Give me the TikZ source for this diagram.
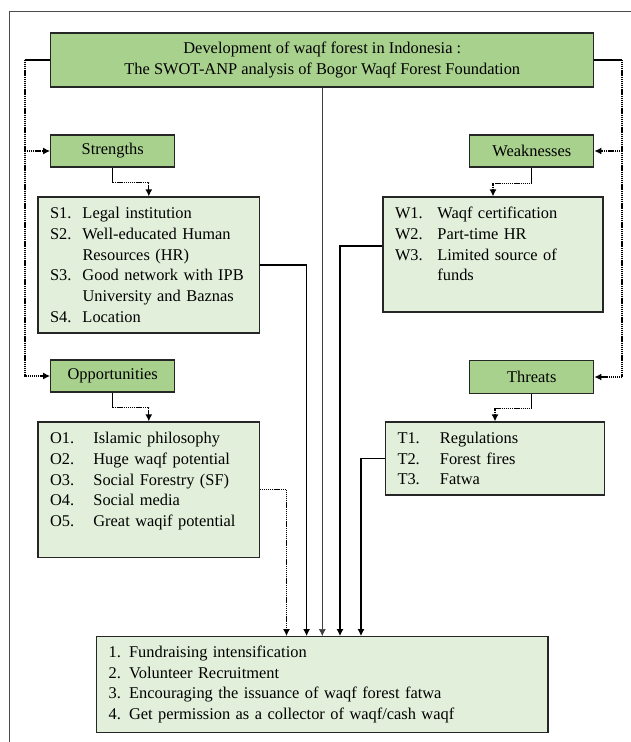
\documentclass[tikz,border=0pt]{standalone}
\usepackage{fontspec}
\setmainfont{Liberation Serif}
\usepackage{xcolor}
\usepackage{tikz}
\usetikzlibrary{arrows.meta}
\definecolor{headgreen}{HTML}{A9D18E}
\definecolor{boxgreen}{HTML}{E2EFDA}
\newcommand{\lbl}[2]{\makebox[#1][l]{#2}}

\begin{document}
\begin{tikzpicture}[x=1pt,y=-1pt,
    every node/.style={font=\fontsize{16.4}{20.7}\selectfont},
    head/.style={draw=black!85,line width=1.2pt,fill=headgreen,inner sep=0pt},
    list/.style={draw=black!85,line width=1.2pt,fill=boxgreen,inner xsep=12pt,inner ysep=0pt,align=left},
    plain/.style={line width=1.1pt},
    link/.style={plain,-{Latex[length=7pt,width=7pt]}},
    dotlink/.style={link,line width=1.3pt,dash pattern=on 1.2pt off 0.7pt}]
    \useasboundingbox (0,0) rectangle (631,742);
    \draw[black!70,line width=0.8pt] (9.7,742) -- (9.7,11) -- (631,11);
    \node[head,minimum width=543pt,minimum height=54pt,align=center] (title) at (322.3,60)
      {Development of waqf forest in Indonesia :\\The SWOT-ANP analysis of Bogor Waqf Forest Foundation};
    \node[head,minimum width=124pt,minimum height=32pt] (str) at (112.7,151) {Strengths};
    \node[head,minimum width=124pt,minimum height=32pt] (weak) at (531.8,151) {Weaknesses};
    \node[head,minimum width=124pt,minimum height=32pt] (opp) at (112.7,376) {Opportunities};
    \node[head,minimum width=124pt,minimum height=33pt] (thr) at (531.8,377) {Threats};
    \node[list,text width=197.6pt,minimum height=136pt] (sbox) at (148.8,265)
      {\lbl{32.5pt}{S1.}Legal institution\\
       \lbl{32.5pt}{S2.}\mbox{Well-educated Human}\\
       \lbl{32.5pt}{}Resources (HR)\\
       \lbl{32.5pt}{S3.}\mbox{Good network with IPB}\\
       \lbl{32.5pt}{}\mbox{University and Baznas}\\
       \lbl{32.5pt}{S4.}Location};
    \node[list,text width=196pt,minimum height=115pt] (wbox) at (493,254.5)
      {\lbl{42.4pt}{W1.}Waqf certification\\
       \lbl{42.4pt}{W2.}Part-time HR\\
       \lbl{42.4pt}{W3.}Limited source of\\
       \lbl{42.4pt}{}funds\\
       \mbox{}};
    \node[list,text width=197.6pt,minimum height=135.7pt] (obox) at (148.8,489.8)
      {\lbl{43.4pt}{O1.}Islamic philosophy\\
       \lbl{43.4pt}{O2.}Huge waqf potential\\
       \lbl{43.4pt}{O3.}Social Forestry (SF)\\
       \lbl{43.4pt}{O4.}Social media\\
       \lbl{43.4pt}{O5.}\mbox{Great waqif potential}\\
       \mbox{}};
    \node[list,text width=195pt,minimum height=73pt] (tbox) at (495,458.5)
      {\lbl{42.4pt}{T1.}Regulations\\
       \lbl{42.4pt}{T2.}Forest fires\\
       \lbl{42.4pt}{T3.}Fatwa};
    \node[list,text width=427.4pt,minimum height=95.7pt] (fbox) at (322.3,684.5)
      {1. Fundraising intensification\\
       2. Volunteer Recruitment\\
       3. Encouraging the issuance of waqf forest fatwa\\
       4. Get permission as a collector of waqf/cash waqf};
    \coordinate (lft) at (25,0);
    \coordinate (rgt) at (622,0);
    \coordinate (xo) at (286.5,0);
    \coordinate (xs) at (306.6,0);
    \coordinate (xw) at (340,0);
    \coordinate (xt) at (361,0);
    \draw[plain] (title.west) -- (lft |- title.west);
    \draw[dotlink] (lft |- title.west) -- (lft |- opp.west) -- (opp.west);
    \draw[dotlink] (lft |- str.west) -- (str.west);
    \draw[plain] (title.east) -- (rgt |- title.east);
    \draw[dotlink] (rgt |- title.east) -- (rgt |- thr.east) -- (thr.east);
    \draw[dotlink] (rgt |- weak.east) -- (weak.east);
    \draw[plain] (str.south) -- ++(0,15) coordinate (sa);
    \draw[dotlink] (sa) -| (sbox.north);
    \draw[plain] (weak.south) -- ++(0,16) coordinate (wa);
    \draw[dotlink] (wa) -| (wbox.north);
    \draw[plain] (opp.south) -- ++(0,15) coordinate (oa);
    \draw[dotlink] (oa) -| (obox.north);
    \draw[plain] (thr.south) -- ++(0,14.5) coordinate (ta);
    \draw[dotlink] (ta) -| (tbox.north);
    \draw[dotlink] (obox.east) -| (xo |- fbox.north);
    \draw[link] (sbox.east) -| (xs |- fbox.north);
    \draw[link,line width=0.6pt,black!75] (title.south) -- (fbox.north);
    \draw[link] ([yshift=8.5pt]wbox.west) -| (xw |- fbox.north);
    \draw[link] (tbox.west) -| (xt |- fbox.north);
\end{tikzpicture}
\end{document}
